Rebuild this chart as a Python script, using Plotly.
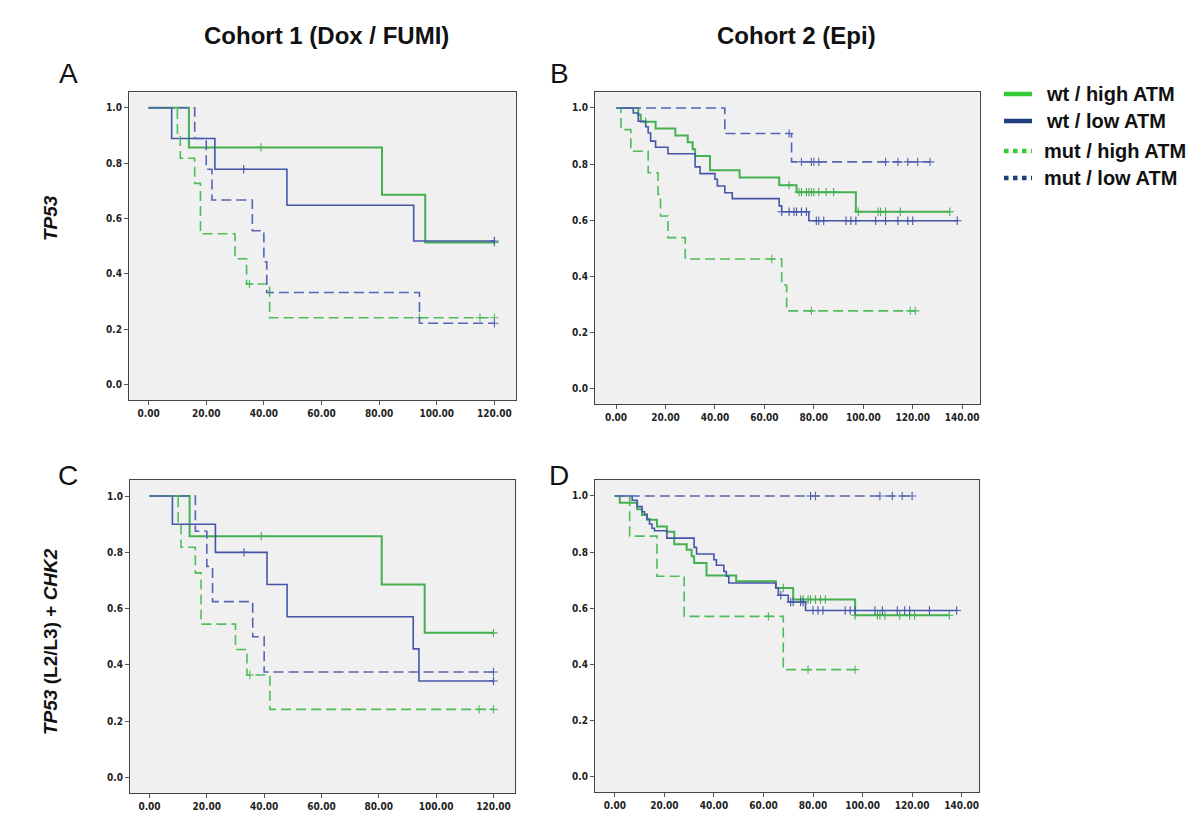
import plotly.graph_objects as go

# ---------------- data ----------------
groups = ["wt / high ATM", "wt / low ATM", "mut / high ATM", "mut / low ATM"]

# Panel A: Cohort 1, TP53
A_wt_high_t = [0, 14, 81, 96];            A_wt_high_s = [1, .857, .686, .514]
A_wt_high_end = 120;                      A_wt_high_c = [39, 120]
A_wt_low_t = [0, 8, 23, 48, 92];          A_wt_low_s = [1, .889, .778, .648, .519]
A_wt_low_end = 120;                       A_wt_low_c = [33, 120]
A_mut_high_t = [0, 10, 11, 16, 18, 30, 34, 42]
A_mut_high_s = [1, .909, .818, .727, .545, .455, .364, .242]
A_mut_high_end = 120;                     A_mut_high_c = [35, 94, 115, 120]
A_mut_low_t = [0, 16, 20, 22, 36, 40, 41, 94]
A_mut_low_s = [1, .889, .778, .667, .556, .444, .333, .222]
A_mut_low_end = 120;                      A_mut_low_c = [120]

# Panel B: Cohort 2, TP53
B_wt_high_t = [0, 9, 10, 16, 24, 29, 31, 32, 38, 50, 66, 73, 97]
B_wt_high_s = [1, .976, .951, .927, .902, .878, .853, .829, .778, .752, .725, .700, .630]
B_wt_high_end = 135
B_wt_high_c = [12, 70, 74, 75, 77, 78, 79, 80, 82, 85, 88, 98, 106, 107, 109, 115, 135]
B_wt_low_t = [0, 7, 9, 12, 13, 14, 16, 21, 32, 34, 40, 41, 44, 47, 66, 67, 78]
B_wt_low_s = [1, .982, .953, .933, .911, .882, .86, .837, .79, .766, .746, .722, .698, .677, .651, .63, .598]
B_wt_low_end = 138
B_wt_low_c = [67, 70, 72, 73, 75, 77, 81, 82, 84, 93, 95, 97, 105, 109, 114, 118, 120, 138]
B_mut_high_t = [0, 2, 6, 13, 17, 18, 21, 28, 67, 69]
B_mut_high_s = [1, .923, .846, .769, .692, .615, .538, .462, .369, .277]
B_mut_high_end = 121;                     B_mut_high_c = [63, 79, 119, 121]
B_mut_low_t = [0, 44, 71];                B_mut_low_s = [1, .909, .808]
B_mut_low_end = 127;                      B_mut_low_c = [70, 75, 79, 80, 82, 109, 114, 118, 122, 127]

# Panel C: Cohort 1, TP53 (L2/L3) + CHK2
C_wt_high_t = [0, 14, 81, 96];            C_wt_high_s = [1, .857, .686, .514]
C_wt_high_end = 120;                      C_wt_high_c = [39, 120]
C_wt_low_t = [0, 8, 23, 41, 48, 92, 94];  C_wt_low_s = [1, .9, .8, .686, .571, .457, .343]
C_wt_low_end = 120;                       C_wt_low_c = [33, 120]
C_mut_high_t = [0, 10, 11, 16, 18, 30, 34, 42]
C_mut_high_s = [1, .909, .818, .727, .545, .455, .364, .242]
C_mut_high_end = 120;                     C_mut_high_c = [35, 115, 120]
C_mut_low_t = [0, 16, 20, 22, 36, 40];    C_mut_low_s = [1, .875, .75, .625, .5, .375]
C_mut_low_end = 120;                      C_mut_low_c = [120]

# Panel D: Cohort 2, TP53 (L2/L3) + CHK2
D_wt_high_t = [0, 2, 9, 11, 13, 17, 21, 24, 29, 31, 32, 37, 49, 65, 72, 97]
D_wt_high_s = [1, .976, .953, .932, .915, .891, .873, .828, .808, .785, .761, .717, .696, .672, .631, .575]
D_wt_high_end = 135
D_wt_high_c = [68, 75, 76, 78, 79, 81, 83, 85, 97, 106, 107, 109, 115, 119, 121, 135]
D_wt_low_t = [0, 7, 9, 11, 12, 13, 14, 15, 16, 21, 32, 33, 40, 41, 44, 45, 46, 65, 66, 70, 77]
D_wt_low_s = [1, .985, .962, .944, .935, .918, .9, .885, .876, .85, .817, .793, .773, .753, .731, .714, .69, .672, .646, .622, .592]
D_wt_low_end = 138
D_wt_low_c = [67, 71, 72, 75, 76, 80, 82, 84, 93, 95, 97, 105, 108, 114, 117, 119, 127, 138]
D_mut_high_t = [0, 6, 17, 28, 68];        D_mut_high_s = [1, .857, .714, .571, .381]
D_mut_high_end = 97;                      D_mut_high_c = [62, 78, 97]
D_mut_low_t = [0];                        D_mut_low_s = [1]
D_mut_low_end = 121;                      D_mut_low_c = [79, 81, 107, 112, 116, 120]

x_ticks_c1 = [0, 20, 40, 60, 80, 100, 120]
x_ticks_c2 = [0, 20, 40, 60, 80, 100, 120, 140]
y_ticks = [0.0, 0.2, 0.4, 0.6, 0.8, 1.0]

col_titles = ["Cohort 1 (Dox / FUMI)", "Cohort 2 (Epi)"]
row_titles = ["<b><i>TP53</i></b>", "<b><i>TP53</i> (L2/L3) + <i>CHK2</i></b>"]
panel_letters = ["A", "B", "C", "D"]

# ---------------- styling ----------------
GREEN = "#45b050"
BLUE = "#4556aa"
GREEN_D = "#4fbc5a"
BLUE_D = "#5565b4"
LEG_GREEN = "#33cc33"
LEG_BLUE = "#1f3e7c"

styles = {
    "wt_high": dict(color=GREEN, dash="solid", width=2),
    "wt_low": dict(color=BLUE, dash="solid", width=1.6),
    "mut_high": dict(color=GREEN_D, dash="10px,5px", width=1.6),
    "mut_low": dict(color=BLUE_D, dash="10px,5px", width=1.6),
}

panels = {
    "A": dict(data={
        "wt_high": (A_wt_high_t, A_wt_high_s, A_wt_high_end, A_wt_high_c),
        "wt_low": (A_wt_low_t, A_wt_low_s, A_wt_low_end, A_wt_low_c),
        "mut_high": (A_mut_high_t, A_mut_high_s, A_mut_high_end, A_mut_high_c),
        "mut_low": (A_mut_low_t, A_mut_low_s, A_mut_low_end, A_mut_low_c)},
        xd=[121/1200, 508/1200], yd=[1-392/818, 1-84/818], xr=[-6.8, 127.5], ticks=x_ticks_c1),
    "B": dict(data={
        "wt_high": (B_wt_high_t, B_wt_high_s, B_wt_high_end, B_wt_high_c),
        "wt_low": (B_wt_low_t, B_wt_low_s, B_wt_low_end, B_wt_low_c),
        "mut_high": (B_mut_high_t, B_mut_high_s, B_mut_high_end, B_mut_high_c),
        "mut_low": (B_mut_low_t, B_mut_low_s, B_mut_low_end, B_mut_low_c)},
        xd=[587/1200, 972/1200], yd=[1-396/818, 1-84/818], xr=[-8.5, 147.2], ticks=x_ticks_c2),
    "C": dict(data={
        "wt_high": (C_wt_high_t, C_wt_high_s, C_wt_high_end, C_wt_high_c),
        "wt_low": (C_wt_low_t, C_wt_low_s, C_wt_low_end, C_wt_low_c),
        "mut_high": (C_mut_high_t, C_mut_high_s, C_mut_high_end, C_mut_high_c),
        "mut_low": (C_mut_low_t, C_mut_low_s, C_mut_low_end, C_mut_low_c)},
        xd=[122/1200, 507/1200], yd=[1-785/818, 1-472/818], xr=[-6.8, 127.5], ticks=x_ticks_c1),
    "D": dict(data={
        "wt_high": (D_wt_high_t, D_wt_high_s, D_wt_high_end, D_wt_high_c),
        "wt_low": (D_wt_low_t, D_wt_low_s, D_wt_low_end, D_wt_low_c),
        "mut_high": (D_mut_high_t, D_mut_high_s, D_mut_high_end, D_mut_high_c),
        "mut_low": (D_mut_low_t, D_mut_low_s, D_mut_low_end, D_mut_low_c)},
        xd=[587/1200, 971/1200], yd=[1-784/818, 1-472/818], xr=[-8.0, 147.0], ticks=x_ticks_c2),
}

TICKFONT = dict(family="Liberation Sans Narrow, DejaVu Sans Condensed, Arial Narrow, sans-serif",
                size=10, color="#222222", weight="bold")


def surv_at(times, surv, c):
    val = surv[0]
    for t, s in zip(times, surv):
        if t <= c:
            val = s
    return val


fig = go.Figure()
layout = {}
for i, (key, p) in enumerate(panels.items()):
    n = "" if i == 0 else str(i + 1)
    xa, ya = "x" + n, "y" + n
    for g in ["wt_high", "wt_low", "mut_high", "mut_low"]:
        t, s, end, cens = p["data"][g]
        st = styles[g]
        fig.add_trace(go.Scatter(
            x=list(t) + [end], y=list(s) + [s[-1]], mode="lines", line_shape="hv",
            line=dict(color=st["color"], dash=st["dash"], width=st["width"]),
            xaxis=xa, yaxis=ya, showlegend=False, hoverinfo="skip"))
        fig.add_trace(go.Scatter(
            x=cens, y=[surv_at(t, s, c) for c in cens], mode="markers",
            marker=dict(symbol="cross-thin", size=6, line=dict(color=st["color"], width=1.1)),
            xaxis=xa, yaxis=ya, showlegend=False, hoverinfo="skip"))
    layout["xaxis" + n] = dict(
        domain=p["xd"], range=p["xr"], anchor=ya, tickvals=p["ticks"],
        ticktext=["%.2f" % v for v in p["ticks"]], ticks="outside", ticklen=4,
        tickcolor="#555555", showline=True, linecolor="#444444", linewidth=1, mirror=True,
        showgrid=False, zeroline=False, tickfont=TICKFONT)
    layout["yaxis" + n] = dict(
        domain=p["yd"], range=[-0.055, 1.057], anchor=xa, tickvals=y_ticks,
        ticktext=["%.1f" % v for v in y_ticks], ticks="outside", ticklen=4,
        tickcolor="#555555", showline=True, linecolor="#444444", linewidth=1, mirror=True,
        showgrid=False, zeroline=False, tickfont=TICKFONT)

fig.update_layout(**layout)

annotations = []
shapes = []
# plot backgrounds
for p in panels.values():
    shapes.append(dict(type="rect", xref="paper", yref="paper", layer="below",
                       x0=p["xd"][0], x1=p["xd"][1], y0=p["yd"][0], y1=p["yd"][1],
                       fillcolor="#f0f0f0", line=dict(width=0)))

TF = "Liberation Sans, Arial, sans-serif"
for txt, xc in zip(col_titles, [318, 788]):
    annotations.append(dict(text="<b>%s</b>" % txt, x=xc/1200, y=1-27/818, xref="paper", yref="paper",
                            showarrow=False, font=dict(family=TF, size=24, color="#111111"),
                            xanchor="center", yanchor="middle"))
for txt, (xc, yc) in zip(panel_letters, [(60, 66), (551, 66), (60, 467), (551, 467)]):
    annotations.append(dict(text=txt, x=xc/1200, y=1-yc/818, xref="paper", yref="paper",
                            showarrow=False, font=dict(family=TF, size=28, color="#111111"),
                            xanchor="center", yanchor="middle"))
for txt, yc in zip(row_titles, [210, 634]):
    annotations.append(dict(text=txt, x=42/1200, y=1-yc/818, xref="paper", yref="paper",
                            showarrow=False, textangle=-90, font=dict(family=TF, size=19, color="#111111"),
                            xanchor="center", yanchor="middle"))

# legend
leg_y = [86, 113, 143, 170]
leg_col = [LEG_GREEN, LEG_BLUE, LEG_GREEN, LEG_BLUE]
leg_dash = ["solid", "solid", "dot", "dot"]
leg_tx = [1036, 1036, 1034, 1034]
for name, yc, col, dsh, tx in zip(groups, leg_y, leg_col, leg_dash, leg_tx):
    shapes.append(dict(type="line", xref="paper", yref="paper",
                       x0=996/1200, x1=1024/1200, y0=1-yc/818, y1=1-yc/818,
                       line=dict(color=col, width=4.5, dash=dsh)))
    annotations.append(dict(text="<b>%s</b>" % name, x=tx/1200, y=1-yc/818, xref="paper", yref="paper",
                            showarrow=False, font=dict(family=TF, size=20, color="#111111"),
                            xanchor="left", yanchor="middle"))

fig.update_layout(
    width=1200, height=818, margin=dict(l=0, r=0, t=0, b=0),
    paper_bgcolor="white", plot_bgcolor="rgba(0,0,0,0)",
    annotations=annotations, shapes=shapes, showlegend=False)

fig.write_html("out.html")
